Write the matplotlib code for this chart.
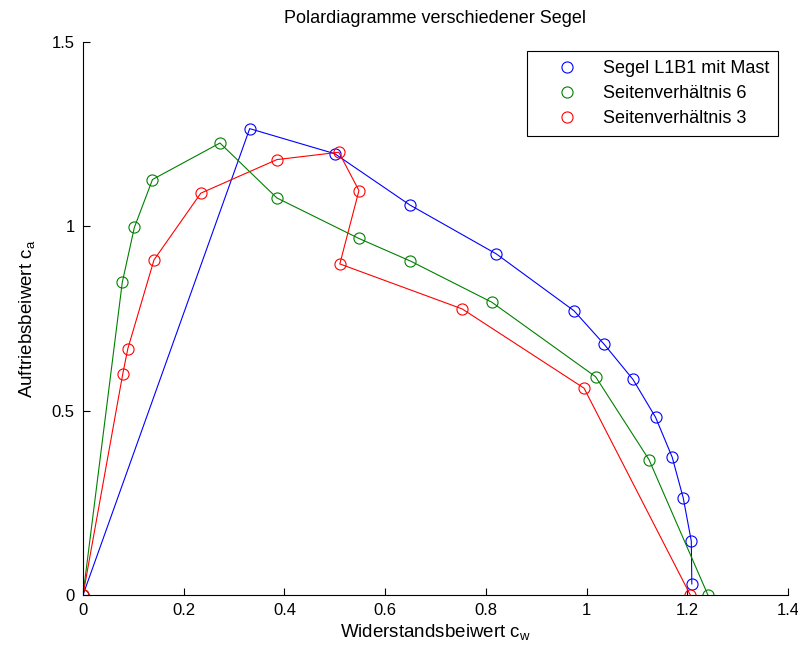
import matplotlib
matplotlib.use("Agg")
import matplotlib.pyplot as plt

plt.rcParams['font.family'] = ['Liberation Sans', 'DejaVu Sans']

blue_cw = [0, 0.331, 0.500, 0.649, 0.821, 0.975, 1.035, 1.092, 1.137, 1.170, 1.192, 1.208, 1.209]
blue_ca = [0, 1.265, 1.197, 1.058, 0.925, 0.771, 0.680, 0.585, 0.482, 0.374, 0.263, 0.146, 0.030]

green_cw = [0, 0.078, 0.102, 0.138, 0.272, 0.385, 0.548, 0.650, 0.812, 1.018, 1.124, 1.241]
green_ca = [0, 0.848, 0.997, 1.127, 1.226, 1.077, 0.967, 0.906, 0.794, 0.592, 0.367, 0.0]

red_cw = [0, 0.079, 0.089, 0.141, 0.234, 0.385, 0.508, 0.548, 0.510, 0.753, 0.995, 1.206]
red_ca = [0, 0.600, 0.668, 0.909, 1.090, 1.181, 1.201, 1.097, 0.898, 0.776, 0.561, 0.0]

labels = ["Segel L1B1 mit Mast", "Seitenverhältnis 6", "Seitenverhältnis 3"]
colors = [(0, 0, 1), (0, 0.5, 0), (1, 0, 0)]

fig = plt.figure(figsize=(7.98, 6.51), dpi=100)
ax = fig.add_axes([83/798, 1 - 595/651, (788-83)/798, (595-42)/651])

series = [(blue_cw, blue_ca), (green_cw, green_ca), (red_cw, red_ca)]
handles = []
for (x, y), c, lab in zip(series, colors, labels):
    ax.plot(x, y, '-', color=c, lw=0.8)
    h, = ax.plot(x, y, 'o', color=c, mfc='none', ms=8, mew=0.8, label=lab)
    handles.append(h)

ax.set_xlim(0, 1.4)
ax.set_ylim(0, 1.5)
ax.set_xticks([0, 0.2, 0.4, 0.6, 0.8, 1.0, 1.2, 1.4])
ax.set_xticklabels(['0', '0.2', '0.4', '0.6', '0.8', '1', '1.2', '1.4'])
ax.set_yticks([0, 0.5, 1.0, 1.5])
ax.set_yticklabels(['0', '0.5', '1', '1.5'])
ax.spines['top'].set_visible(False)
ax.spines['right'].set_visible(False)
ax.tick_params(direction='in', length=5, labelsize=12, pad=6)
ax.set_title("Polardiagramme verschiedener Segel", fontsize=13, pad=14)
ax.set_xlabel("Widerstandsbeiwert c$_\\mathregular{w}$", fontsize=13.5, labelpad=3)
ax.set_ylabel("Auftriebsbeiwert c$_\\mathregular{a}$", fontsize=13.5, labelpad=10)

leg = ax.legend(handles=handles, loc='upper right', bbox_to_anchor=(0.986, 0.984),
                fontsize=13, fancybox=False, edgecolor='black', framealpha=1,
                handlelength=3.4, handletextpad=0.3, borderpad=0.5, labelspacing=0.45,
                borderaxespad=0)
leg.get_frame().set_linewidth(0.8)

fig.savefig("out.png", dpi=100)
